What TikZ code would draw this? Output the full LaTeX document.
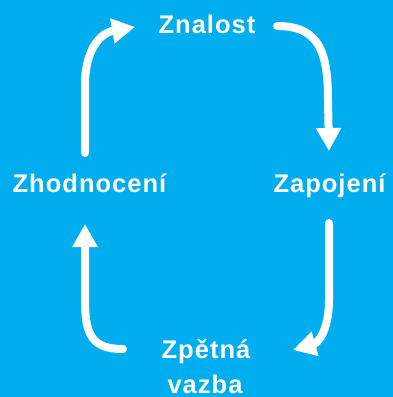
\documentclass[tikz,border=0pt]{standalone}
\usepackage{fontspec}
\setmainfont{Liberation Sans}[LetterSpace=4]
\usetikzlibrary{arrows.meta}
\definecolor{bgblue}{HTML}{00ADEE}
\begin{document}
\begin{tikzpicture}[x=1pt,y=-1pt,
  lbl/.style={text=white,font=\fontsize{25.5}{35}\selectfont\bfseries,inner sep=0pt,anchor=base,align=center},
  cyc/.style={draw=white,line width=8pt,line cap=round,-{Triangle[width=24pt,length=23pt]}}]
\fill[bgblue] (0,0) rectangle (393,397);
\useasboundingbox (0,0) rectangle (393,397);
\node[lbl] (zn) at (207,33) {Znalost};
\node[lbl] (za) at (329.5,192) {Zapojení};
\node[lbl] (zh) at (89.5,192) {Zhodnocení};
\node[lbl] (zp) at (206,358) {Zpětná};
\node[lbl] (va) at (205,393) {vazba};
\coordinate (a1s) at (85,153);
\coordinate (a1e) at (135,27);
\coordinate (a2s) at (277,26);
\coordinate (a2e) at (329,151);
\coordinate (a3s) at (329,223);
\coordinate (a3e) at (293,350);
\coordinate (a4s) at (123,349);
\coordinate (a4e) at (85,224);
\draw[cyc] (a1s) -- (85,85) .. controls (85,50) and (100,33) .. (a1e);
\draw[cyc] (a2s) .. controls (318,26) and (328,50) .. (328,100) -- (a2e);
\draw[cyc] (a3s) -- (329,300) .. controls (329,330) and (318,343) .. (a3e);
\draw[cyc] (a4s) .. controls (92,349) and (85,335) .. (85,300) -- (a4e);
\end{tikzpicture}
\end{document}
